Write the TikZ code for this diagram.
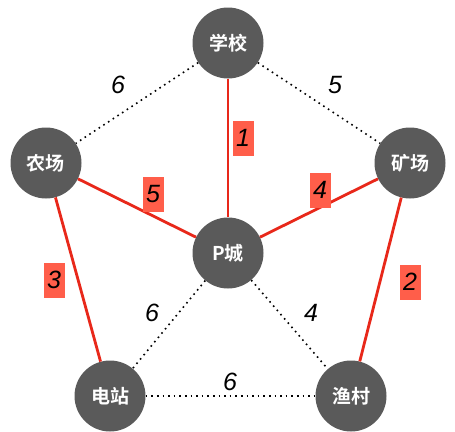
\documentclass[tikz,border=0pt]{standalone}
\usepackage{fontspec}
\usepackage{xcolor}
\usepackage{tikz}
\usetikzlibrary{positioning}
\newfontfamily\cjk{Noto Sans CJK SC}[BoldFont={Noto Sans CJK SC Bold}]
\newfontfamily\numfont{Liberation Sans}
\definecolor{nodegray}{RGB}{90,90,90}
\definecolor{pathred}{RGB}{232,40,26}
\definecolor{tagred}{RGB}{255,94,74}

\begin{document}
\begin{tikzpicture}[x=1pt, y=-1pt,
    town/.style={circle, fill=nodegray, minimum size=71pt, inner sep=0pt,
                 text=white, font=\cjk\bfseries\fontsize{19}{19}\selectfont},
    road/.style={line width=1.6pt, dash pattern=on 1.6pt off 4pt, black},
    route/.style={line width=2.8pt, pathred},
    cost/.style={font=\numfont\itshape\fontsize{25}{25}\selectfont, inner sep=1pt},
    tag/.style={cost, fill=tagred, minimum width=21pt, minimum height=35pt}
]
\useasboundingbox (0,0) rectangle (455,431);
% towns
\node[town] (school) at (228,43) {学校};
\node[town] (farm) at (46,163) {农场};
\node[town] (mine) at (410,163) {矿场};
\node[town] (city) at (228,253) {P城};
\node[town] (plant) at (110,396) {电站};
\node[town] (village) at (351,396) {渔村};
% roads
\draw[road] (school) -- (farm);
\draw[road] (school) -- (mine);
\draw[road] (city) -- (plant);
\draw[road] (city) -- (village);
\draw[road] (plant) -- (village);
\draw[route] (school) -- (city);
\draw[route] (farm) -- (city);
\draw[route] (mine) -- (city);
\draw[route] (farm) -- (plant);
\draw[route] (mine) -- (village);
% costs
\node[cost] (c1) at (118,85) {6};
\node[cost] (c2) at (335,85) {5};
\node[cost] (c3) at (152,313) {6};
\node[cost] (c4) at (311,313) {4};
\node[cost] (c5) at (230,382) {6};
\node[tag] (t1) at (243,138) {1};
\node[tag] (t2) at (153,194) {5};
\node[tag] (t3) at (320,190) {4};
\node[tag] (t4) at (54,280) {3};
\node[tag] (t5) at (410,282) {2};
\end{tikzpicture}
\end{document}
